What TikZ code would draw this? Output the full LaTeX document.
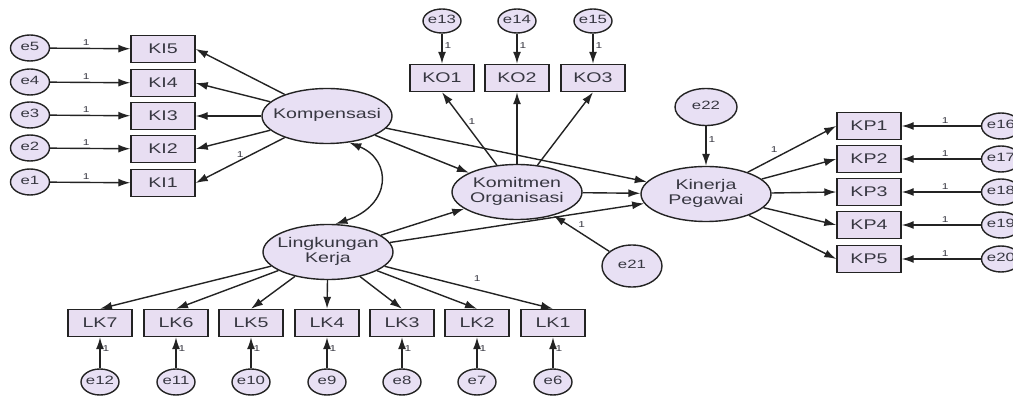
\documentclass[tikz,border=0pt]{standalone}
\usepackage{fontspec}
\setmainfont[FakeStretch=1.4]{Liberation Sans}
\usetikzlibrary{arrows.meta,shapes.geometric}
\definecolor{lfill}{RGB}{232,224,244}
\definecolor{bfill}{RGB}{232,222,242}
\definecolor{ln}{RGB}{35,35,35}
\definecolor{tx}{RGB}{55,55,65}
\newcommand{\zb}[1]{\makebox[0pt]{\begin{tabular}{@{}c@{}}#1\end{tabular}}}
\begin{document}
\begin{tikzpicture}[x=1pt,y=-1pt,
 latent/.style={ellipse,draw=ln,line width=1.4pt,fill=lfill,minimum width=130pt,minimum height=55pt,inner sep=0pt,font=\fontsize{14}{15}\selectfont,text=tx},
 obs/.style={rectangle,draw=ln,line width=1.4pt,fill=bfill,minimum width=64pt,minimum height=27pt,inner sep=0pt,font=\fontsize{14}{16}\selectfont,text=tx},
 err/.style={ellipse,draw=ln,line width=1.4pt,fill=lfill,minimum width=39pt,minimum height=26pt,inner sep=0pt,font=\fontsize{12}{14}\selectfont,text=tx},
 arr/.style={-{Latex[length=12pt,width=8pt]},line width=1.4pt,draw=ln},
 dbl/.style={{Latex[length=12pt,width=8pt]}-{Latex[length=12pt,width=8pt]},line width=1.4pt,draw=ln},
 one/.style={font=\fontsize{8.5}{9}\selectfont,text=tx,inner sep=2pt},
]
\clip (0,0) rectangle (1013,398);
\fill[white] (0,0) rectangle (1013,398);

% Kompensasi block
\foreach \i/\y in {5/48,4/82,3/115,2/148,1/182}{
  \node[err] (e\i) at (30,\y) {\zb{e\i}};
  \node[obs] (KI\i) at (163,\y+1) {KI\i};
  \draw[arr] (e\i) -- node[one,pos=0.45,above]{1} (KI\i);
}
\node[latent] (komp) at (327,116) {\zb{Kompensasi}};
\draw[arr] (komp) -- (KI5.east);
\draw[arr] (komp) -- (KI4.east);
\draw[arr] (komp) -- (KI3.east);
\draw[arr] (komp) -- (KI2.east);
\draw[arr] (komp) -- node[one,pos=0.5,above]{1} (KI1.east);

% Latent variables
\node[latent] (lk) at (328,252) {\zb{Lingkungan\\Kerja}};
\node[latent] (ko) at (517,192) {\zb{Komitmen\\Organisasi}};
\node[latent] (kp) at (706,194) {\zb{Kinerja\\Pegawai}};

% KO block
\foreach \i/\n/\x in {1/13/442,2/14/517,3/15/593}{
  \node[err,minimum width=38pt,minimum height=24pt] (e\n) at (\x,21) {\zb{e\n}};
  \node[obs] (KO\i) at (\x,78) {KO\i};
  \draw[arr] (e\n) -- node[one,pos=0.4,right]{1} (KO\i);
}
\draw[arr] (ko) -- node[one,pos=0.6,right=2pt]{1} (KO1.south);
\draw[arr] (ko) -- (KO2.south);
\draw[arr] (ko) -- (KO3.south);

% structural paths
\draw[dbl] (komp.-50) .. controls (392,160) and (392,205) .. (lk.75);
\draw[arr] (komp) -- (ko);
\draw[arr] (komp) -- (kp);
\draw[arr] (lk) -- (ko);
\draw[arr] (lk) -- (kp);
\draw[arr] (ko) -- (kp);

\node[err,minimum width=60pt,minimum height=42pt] (e21) at (632,266) {\zb{e21}};
\draw[arr] (e21) -- node[one,pos=0.6,above right]{1} (ko);
\node[err,minimum width=62pt,minimum height=37pt] (e22) at (706,107) {\zb{e22}};
\draw[arr] (e22) -- node[one,pos=0.35,right]{1} (kp);

% KP block
\foreach \i/\n/\y in {1/16/126,2/17/159,3/18/192,4/19/225,5/20/259}{
  \node[obs] (KP\i) at (869,\y) {KP\i};
  \node[err] (e\n) at (1001,\y) {\zb{e\n}};
  \draw[arr] (e\n) -- node[one,pos=0.45,above]{1} (KP\i);
}
\draw[arr] (kp) -- node[one,pos=0.3,above=3pt]{1} (KP1.west);
\draw[arr] (kp) -- (KP2.west);
\draw[arr] (kp) -- (KP3.west);
\draw[arr] (kp) -- (KP4.west);
\draw[arr] (kp) -- (KP5.west);

% LK block
\foreach \i/\n/\x in {7/12/100,6/11/176,5/10/251,4/9/327,3/8/402,2/7/477,1/6/553}{
  \node[obs] (LK\i) at (\x,323) {LK\i};
  \node[err,minimum width=38pt] (e\n) at (\x,382) {\zb{e\n}};
  \draw[arr] (e\n) -- node[one,pos=0.65,right]{1} (LK\i);
}
\draw[arr] (lk) -- node[one,pos=0.55,above=5pt]{1} (LK1.north);
\draw[arr] (lk) -- (LK2.north);
\draw[arr] (lk) -- (LK3.north);
\draw[arr] (lk) -- (LK4.north);
\draw[arr] (lk) -- (LK5.north);
\draw[arr] (lk) -- (LK6.north);
\draw[arr] (lk) -- (LK7.north);
\end{tikzpicture}
\end{document}
